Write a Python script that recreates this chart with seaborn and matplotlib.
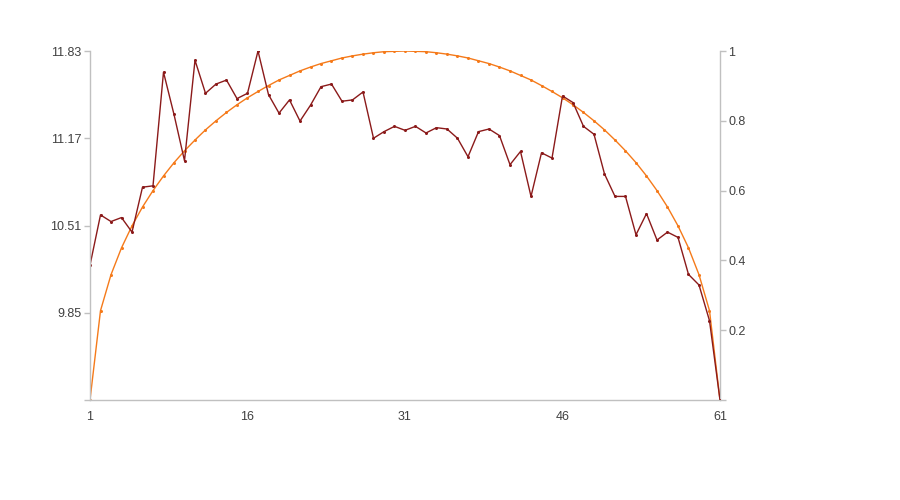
import numpy as np
import pandas as pd
import matplotlib
matplotlib.use('Agg')
import matplotlib.pyplot as plt
import seaborn as sns

# x positions 1..61
x = list(range(1, 62))

# dark red series (left axis)
left_vals = [10.21, 10.59, 10.54, 10.57, 10.46, 10.80, 10.81, 11.67, 11.35, 11.00,
             11.76, 11.51, 11.58, 11.61, 11.47, 11.51, 11.83, 11.50, 11.36, 11.46,
             11.30, 11.42, 11.56, 11.58, 11.45, 11.46, 11.52, 11.17, 11.22, 11.26,
             11.23, 11.26, 11.21, 11.25, 11.24, 11.17, 11.03, 11.22, 11.24, 11.19,
             10.97, 11.07, 10.73, 11.06, 11.02, 11.49, 11.44, 11.26, 11.20, 10.90,
             10.73, 10.73, 10.44, 10.60, 10.40, 10.46, 10.42, 10.14, 10.06, 9.79,
             9.19]

# orange series (right axis)
right_vals = [0.0, 0.256, 0.359, 0.436, 0.499, 0.553, 0.600, 0.642, 0.680, 0.714,
              0.745, 0.774, 0.800, 0.824, 0.846, 0.866, 0.884, 0.901, 0.917, 0.930,
              0.943, 0.954, 0.964, 0.972, 0.980, 0.986, 0.991, 0.995, 0.998, 0.999,
              1.0, 0.999, 0.998, 0.995, 0.991, 0.986, 0.980, 0.972, 0.964, 0.954,
              0.943, 0.930, 0.917, 0.901, 0.884, 0.866, 0.846, 0.824, 0.800, 0.774,
              0.745, 0.714, 0.680, 0.642, 0.600, 0.553, 0.499, 0.436, 0.359, 0.256,
              0.0]

x_ticks = [1, 16, 31, 46, 61]
left_ticks = [9.19, 9.85, 10.51, 11.17, 11.83]
left_labels = ['', '9.85', '10.51', '11.17', '11.83']
right_ticks = [0, 0.2, 0.4, 0.6, 0.8, 1]
right_labels = ['', '0.2', '0.4', '0.6', '0.8', '1']

df = pd.DataFrame({'x': x, 'left': left_vals, 'right': right_vals})

sns.set_style('white')
plt.rcParams['font.family'] = ['Liberation Sans', 'DejaVu Sans']

fig = plt.figure(figsize=(9, 5), dpi=100)
ax = fig.add_axes([0.1, 0.2, 0.7, 0.698])
ax2 = ax.twinx()

axis_col = '#c0c0c0'
text_col = '#404040'

sns.lineplot(data=df, x='x', y='right', ax=ax2, color='#f57a1a', lw=1.0,
             marker='o', markersize=2.2, markeredgewidth=0)
sns.lineplot(data=df, x='x', y='left', ax=ax, color='#8b1a1a', lw=1.0,
             marker='o', markersize=2.2, markeredgewidth=0)

# put left series on top of the orange one
ax.set_zorder(ax2.get_zorder() + 1)
ax.patch.set_visible(False)

ax.set_xlim(1, 61)
ax.set_ylim(9.19, 11.83)
ax2.set_ylim(0, 1)

ax.set_xticks(x_ticks)
ax.set_xticklabels([str(t) for t in x_ticks])
ax.set_yticks(left_ticks)
ax.set_yticklabels(left_labels)
ax2.set_yticks(right_ticks)
ax2.set_yticklabels(right_labels)

for a in (ax, ax2):
    a.set_xlabel('')
    a.set_ylabel('')
    a.grid(False)
    for side in ['left', 'right', 'bottom']:
        a.spines[side].set_color(axis_col)
        a.spines[side].set_linewidth(1)
    a.spines['top'].set_visible(False)
    a.tick_params(colors=axis_col, labelcolor=text_col, labelsize=9,
                  length=4, width=1, direction='out', pad=2)
ax.spines['right'].set_visible(False)
ax2.spines['left'].set_visible(False)
ax2.spines['bottom'].set_visible(False)
ax.tick_params(axis='x', pad=4)

fig.savefig('out.png', dpi=100, facecolor='white')
